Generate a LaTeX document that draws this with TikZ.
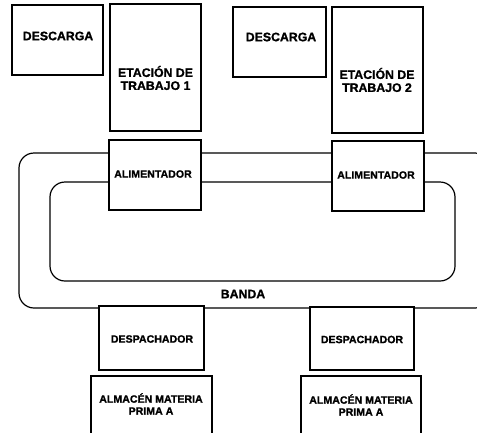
\documentclass[tikz,border=0pt]{standalone}
\usepackage{fontspec}
\setmainfont[BoldFeatures={FakeBold=1.2}]{Liberation Sans}
\begin{document}
\begin{tikzpicture}[x=1pt,y=-1pt,
  box/.style={draw, line width=1.2pt, fill=white, rectangle, inner sep=0pt, anchor=center},
  lblbig/.style={font=\fontsize{12.3}{13}\selectfont\bfseries, align=center, inner sep=0pt},
  lblsmall/.style={font=\fontsize{10.6}{12}\selectfont\bfseries, align=center, inner sep=0pt},
  belt/.style={draw, line width=1.2pt, rounded corners=15pt}]
\useasboundingbox (0,0) rectangle (477,432);
\clip (0,0) rectangle (477,432);
% belt loops
\draw[belt] (19,153) rectangle (490,308);
\draw[belt] (50,182) rectangle (455,281);
% boxes
\node[box, minimum width=91, minimum height=70] (d1) at (57.5,40) {};
\node[box, minimum width=91, minimum height=127] (e1) at (155.5,67.5) {};
\node[box, minimum width=93, minimum height=70] (d2) at (279.5,42) {};
\node[box, minimum width=91, minimum height=126] (e2) at (377.5,70) {};
\node[box, minimum width=92, minimum height=70] (a1) at (155,175) {};
\node[box, minimum width=92, minimum height=70] (a2) at (378,176) {};
\node[box, minimum width=105, minimum height=64] (p1) at (151.5,338) {};
\node[box, minimum width=104, minimum height=63] (p2) at (362,338.5) {};
\node[box, minimum width=121, minimum height=69] (m1) at (151.5,410.5) {};
\node[box, minimum width=120, minimum height=69] (m2) at (361,410.5) {};
% labels
\node[lblbig] (d1t) at (58,36) {DESCARGA};
\node[lblbig] (e1t) at (155.5,78) {ETACIÓN DE\\TRABAJO 1};
\node[lblbig] (d2t) at (281,37) {DESCARGA};
\node[lblbig] (e2t) at (377,80) {ETACIÓN DE\\TRABAJO 2};
\node[lblsmall] (a1t) at (153,174) {ALIMENTADOR};
\node[lblsmall] (a2t) at (376,175) {ALIMENTADOR};
\node[lblsmall] (p1t) at (152,339) {DESPACHADOR};
\node[lblsmall] (p2t) at (362,339.5) {DESPACHADOR};
\node[lblsmall] (m1t) at (151,404) {ALMACÉN MATERIA\\PRIMA A};
\node[lblsmall] (m2t) at (361,405) {ALMACÉN MATERIA\\PRIMA A};
\node[lblbig] (banda) at (243,294) {BANDA};
\end{tikzpicture}
\end{document}
